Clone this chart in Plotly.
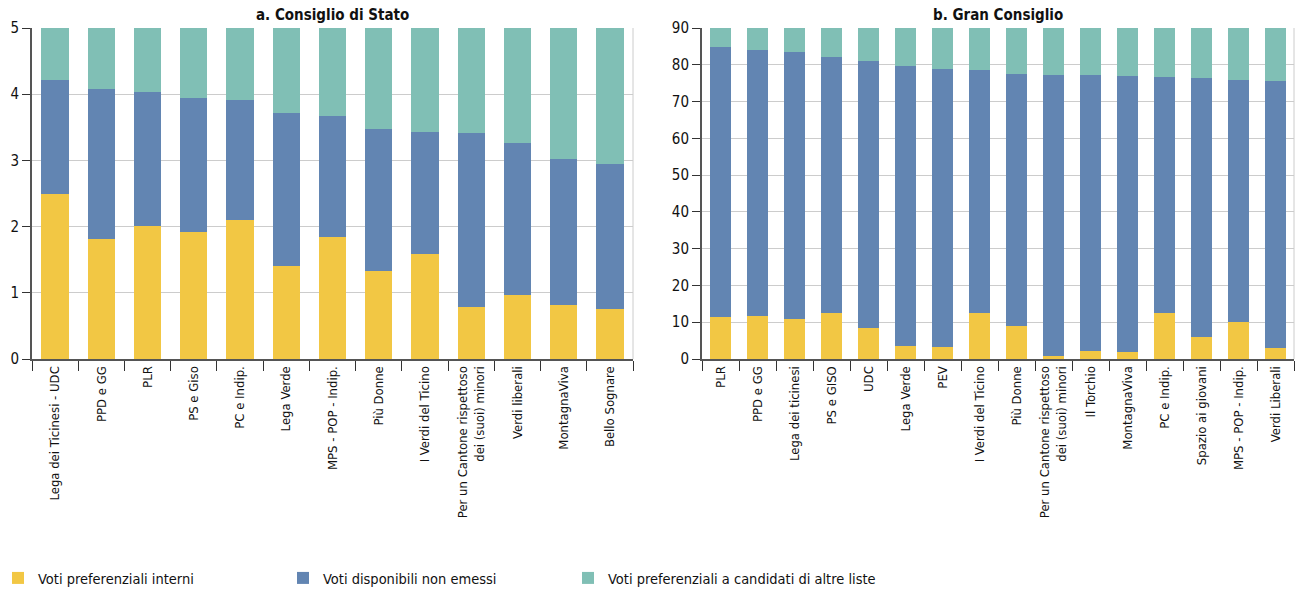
import plotly.graph_objects as go

FONT = "Liberation Sans Narrow, DejaVu Sans Condensed, Arial Narrow, sans-serif"

cats_a = ["Lega dei Ticinesi - UDC", "PPD e GG", "PLR", "PS e Giso", "PC e Indip.", "Lega Verde",
          "MPS - POP - Indip.", "Più Donne", "I Verdi del Ticino",
          "Per un Cantone rispettoso<br>dei (suoi) minori", "Verdi liberali", "MontagnaViva", "Bello Sognare"]
interni_a = [2.50, 1.81, 2.01, 1.92, 2.10, 1.40, 1.85, 1.33, 1.59, 0.79, 0.97, 0.82, 0.76]
nonemessi_a = [1.71, 2.27, 2.02, 2.02, 1.81, 2.32, 1.82, 2.14, 1.84, 2.62, 2.29, 2.20, 2.19]
altre_a = [0.79, 0.92, 0.97, 1.06, 1.09, 1.28, 1.33, 1.53, 1.57, 1.59, 1.74, 1.98, 2.05]

cats_b = ["PLR", "PPD e GG", "Lega dei ticinesi", "PS e GISO", "UDC", "Lega Verde", "PEV",
          "I Verdi del Ticino", "Più Donne", "Per un Cantone rispettoso<br>dei (suoi) minori",
          "Il Torchio", "MontagnaViva", "PC e Indip.", "Spazio ai giovani", "MPS - POP - Indip.",
          "Verdi Liberali"]
interni_b = [11.4, 11.8, 10.9, 12.4, 8.3, 3.5, 3.3, 12.6, 9.1, 0.7, 2.2, 1.8, 12.6, 5.9, 10.1, 3.0]
nonemessi_b = [73.4, 72.1, 72.5, 69.6, 72.6, 76.1, 75.5, 65.9, 68.4, 76.4, 75.0, 75.1, 64.2, 70.5, 65.7, 72.6]
altre_b = [5.2, 6.1, 6.6, 8.0, 9.1, 10.4, 11.2, 11.5, 12.5, 12.9, 12.8, 13.1, 13.2, 13.6, 14.2, 14.4]

series_names = ["Voti preferenziali interni", "Voti disponibili non emessi",
                "Voti preferenziali a candidati di altre liste"]
colors = ["#F2C744", "#6285B2", "#80BFB5"]
legend_ids = ["legend", "legend2", "legend3"]

fig = go.Figure()
for i, (name, vals) in enumerate(zip(series_names, [interni_a, nonemessi_a, altre_a])):
    fig.add_trace(go.Bar(x=cats_a, y=vals, name=name, marker_color=colors[i],
                         marker_line_width=0, xaxis="x", yaxis="y", legendgroup=name,
                         legend=legend_ids[i]))
for i, (name, vals) in enumerate(zip(series_names, [interni_b, nonemessi_b, altre_b])):
    fig.add_trace(go.Bar(x=cats_b, y=vals, name=name, marker_color=colors[i],
                         marker_line_width=0, xaxis="x2", yaxis="y2", legendgroup=name,
                         showlegend=False))

xcommon = dict(tickangle=-90, ticks="outside", tickson="boundaries", ticklen=10,
               tickcolor="#333", showline=True, linecolor="#555", linewidth=2, automargin=False,
               tickfont=dict(family=FONT, size=13, color="#111"), showgrid=False)
ycommon = dict(ticks="outside", ticklen=8, tickcolor="#333", showline=True, linecolor="#555",
               linewidth=2, gridcolor="#cccccc", gridwidth=1, zeroline=False, automargin=False,
               tickfont=dict(family=FONT, size=15, color="#111"))

leg_y = (359 - 578) / 331
leg_common = dict(orientation="h", xanchor="left", y=leg_y, yanchor="middle",
                  font=dict(family=FONT, size=14.5, color="#111"))

fig.update_layout(
    barmode="stack", bargap=0.41,
    width=1300, height=592,
    margin=dict(l=0, r=0, t=28, b=233, autoexpand=False),
    paper_bgcolor="white", plot_bgcolor="white",
    font=dict(family=FONT, color="#111"),
    xaxis=dict(domain=[32/1300, 633/1300], anchor="y", **xcommon),
    yaxis=dict(range=[0, 5], dtick=1, anchor="x", **ycommon),
    xaxis2=dict(domain=[702/1300, 1294/1300], anchor="y2", **xcommon),
    yaxis2=dict(range=[0, 90], dtick=10, anchor="x2", **ycommon),
    legend=dict(x=-2/1300, **leg_common),
    legend2=dict(x=283/1300, **leg_common),
    legend3=dict(x=568/1300, **leg_common),
    annotations=[
        dict(text="<b>a. Consiglio di Stato</b>", xref="paper", yref="paper",
             x=(32 + 633) / 2 / 1300, y=1, yanchor="bottom", xanchor="center", showarrow=False,
             yshift=2, font=dict(family=FONT, size=15, color="#111")),
        dict(text="<b>b. Gran Consiglio</b>", xref="paper", yref="paper",
             x=(702 + 1294) / 2 / 1300, y=1, yanchor="bottom", xanchor="center", showarrow=False,
             yshift=2, font=dict(family=FONT, size=15, color="#111")),
    ],
    shapes=[
        dict(type="line", xref="x domain", yref="y domain", x0=1, x1=1, y0=0, y1=1,
             line=dict(color="#cccccc", width=1)),
        dict(type="line", xref="x2 domain", yref="y2 domain", x0=1, x1=1, y0=0, y1=1,
             line=dict(color="#cccccc", width=1)),
    ],
)

fig.write_html("out.html", config={"displayModeBar": False},
               post_script="document.body.style.margin='0';document.body.style.overflow='hidden';")
